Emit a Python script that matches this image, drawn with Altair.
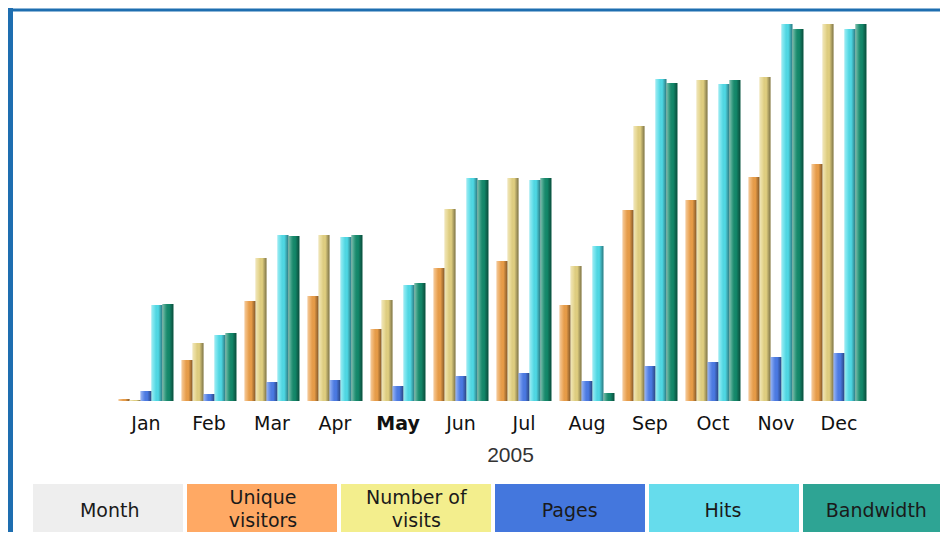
import altair as alt
import pandas as pd

# ---- data ----
months = ["Jan", "Feb", "Mar", "Apr", "May", "Jun", "Jul", "Aug", "Sep", "Oct", "Nov", "Dec"]
series = ["Unique visitors", "Number of visits", "Pages", "Hits", "Bandwidth"]
unique_visitors = [2, 41, 100, 105, 72, 133, 140, 96, 191, 201, 224, 237]
visits = [1, 58, 143, 166, 101, 192, 223, 135, 275, 321, 324, 377]
pages = [10, 7, 19, 21, 15, 25, 28, 20, 35, 39, 44, 48]
hits = [96, 66, 166, 164, 116, 223, 221, 155, 322, 317, 377, 372]
bandwidth = [97, 68, 165, 166, 118, 221, 223, 8, 318, 321, 372, 377]

legend_labels = ["Month", "Unique visitors", "Number of visits", "Pages", "Hits", "Bandwidth"]
legend_line1 = ["Month", "Unique", "Number of", "Pages", "Hits", "Bandwidth"]
legend_line2 = ["", "visitors", "visits", "", "", ""]
year_title = "2005"
bold_month = "May"

# ---- tables ----
rows = []
for i, m in enumerate(months):
    for s, vals in zip(series, [unique_visitors, visits, pages, hits, bandwidth]):
        rows.append({"month": m, "series": s, "value": vals[i]})
df = pd.DataFrame(rows)
legend_df = pd.DataFrame({
    "label": legend_labels,
    "line1": legend_line1,
    "line2": legend_line2,
    "row": ["legend"] * len(legend_labels),
})
frame_df = pd.DataFrame({"k": [0]})

# ---- styles / layout ----
W, H = 932, 524
BASE = 393
bar_colors = ["#eb9e48", "#e3d181", "#4b7be6", "#4fdbe7", "#138a6b"]
cell_colors = ["#eeeeee", "#ffa964", "#f3ee8d", "#4477dd", "#66dcec", "#2ea494"]
frame_color = "#1e6eb0"

xscale = alt.Scale(domain=months, range=[106.5, 862.5], paddingInner=0.13, paddingOuter=0.065)
yscale = alt.Scale(domain=[0, BASE], range=[BASE, 0])
xoff = alt.XOffset("series:N", sort=series, scale=alt.Scale(domain=series))

x_axis = alt.Axis(
    title=year_title,
    orient="bottom",
    offset=BASE - H,
    domain=False,
    ticks=False,
    grid=False,
    labelAngle=0,
    labelPadding=13,
    labelFont="DejaVu Sans",
    labelFontSize=19,
    labelColor="#111111",
    labelFontWeight=alt.condition(f"datum.value == '{bold_month}'", alt.value("bold"), alt.value("normal")),
    titleFont="Liberation Sans",
    titleFontSize=21,
    titleFontWeight="normal",
    titleColor="#333333",
    titleX=502,
    titleY=54,
    titleAlign="center",
    titleBaseline="middle",
)

bars = alt.Chart(df).mark_bar().encode(
    x=alt.X("month:N", sort=months, scale=xscale, axis=x_axis),
    xOffset=xoff,
    y=alt.Y("value:Q", scale=yscale, axis=None),
    color=alt.Color("series:N", scale=alt.Scale(domain=series, range=bar_colors), legend=None),
)

shade_grad = alt.Gradient(
    gradient="linear", x1=0, x2=1, y1=0, y2=0,
    stops=[
        alt.GradientStop(offset=0, color="rgba(255,255,255,0.45)"),
        alt.GradientStop(offset=0.3, color="rgba(255,255,255,0.12)"),
        alt.GradientStop(offset=0.6, color="rgba(0,0,0,0.0)"),
        alt.GradientStop(offset=1, color="rgba(0,0,0,0.45)"),
    ],
)
shade = alt.Chart(df).mark_bar(color=shade_grad).encode(
    x=alt.X("month:N", sort=months, scale=xscale, axis=None),
    xOffset=xoff,
    y=alt.Y("value:Q", scale=yscale, axis=None),
)

top_rule = alt.Chart(frame_df).mark_rule(color=frame_color, strokeWidth=3).encode(
    x=alt.value(0), x2=alt.value(W), y=alt.value(2)
)
left_rule = alt.Chart(frame_df).mark_rule(color=frame_color, strokeWidth=5).encode(
    x=alt.value(2.5), y=alt.value(0), y2=alt.value(H)
)

lx = alt.X("label:N", sort=legend_labels,
           scale=alt.Scale(domain=legend_labels, range=[25, 945], paddingInner=0.026, paddingOuter=0),
           axis=None)
ly = alt.Y("row:N", scale=alt.Scale(range=[476, 530], paddingInner=0, paddingOuter=0), axis=None)

legend_rect = alt.Chart(legend_df).mark_rect().encode(
    x=lx, y=ly,
    color=alt.Color("label:N", scale=alt.Scale(domain=legend_labels, range=cell_colors), legend=None),
)
txt_style = dict(font="DejaVu Sans", fontSize=19, color="#1a1a1a", baseline="middle")
legend_single = alt.Chart(legend_df).transform_filter("datum.line2 == ''").mark_text(**txt_style).encode(
    x=lx, y=ly, text="line1:N"
)
legend_top = alt.Chart(legend_df).transform_filter("datum.line2 != ''").mark_text(dy=-13, **txt_style).encode(
    x=lx, y=ly, text="line1:N"
)
legend_bottom = alt.Chart(legend_df).transform_filter("datum.line2 != ''").mark_text(dy=10, **txt_style).encode(
    x=lx, y=ly, text="line2:N"
)

chart = (
    alt.layer(top_rule, left_rule, bars, shade, legend_rect, legend_single, legend_top, legend_bottom)
    .resolve_scale(x="independent", y="independent", color="independent")
    .properties(width=W, height=H, padding=0, autosize=alt.AutoSizeParams(type="none"))
    .configure_view(stroke=None)
)

chart.save("out.html", embed_options={"renderer": "svg", "actions": False})
